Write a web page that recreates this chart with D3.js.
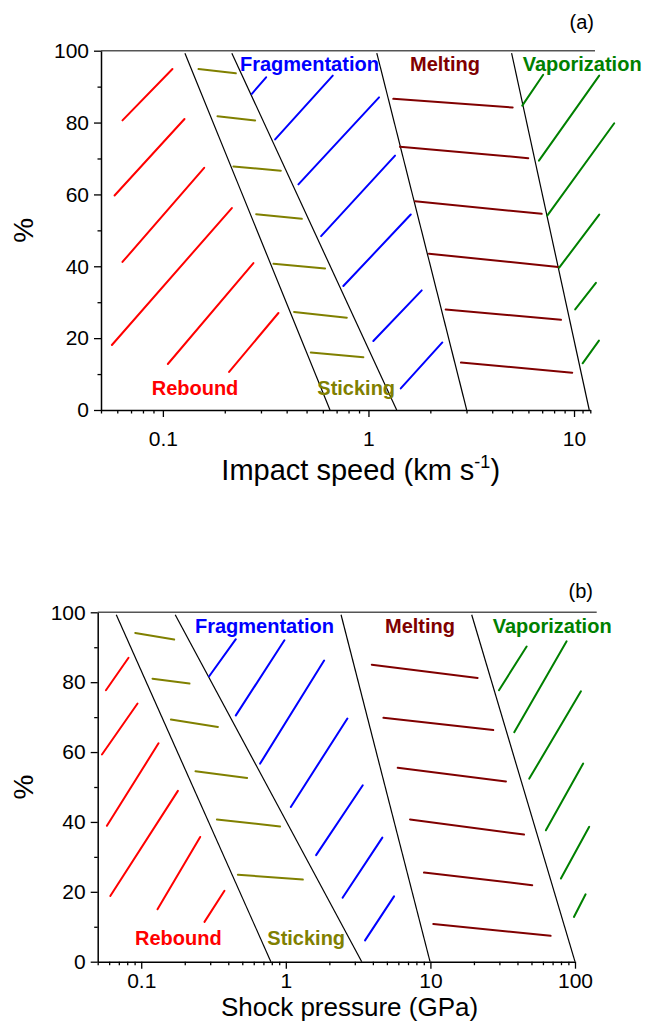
<!DOCTYPE html>
<html>
<head>
<meta charset="utf-8">
<script src="https://cdn.jsdelivr.net/npm/d3@7"></script>
<style>
  html, body { margin: 0; padding: 0; background: #fff; }
  svg { display: block; font-family: "Liberation Sans", Arial, sans-serif; }
</style>
</head>
<body>
<svg id="chart" width="649" height="1022"></svg>
<script>
// ---------------- DATA ----------------
const regimes = ["Rebound", "Sticking", "Fragmentation", "Melting", "Vaporization"];
const regimeColors = ["#ff0000", "#808000", "#0000ff", "#800000", "#008000"];

// Panel (a): impact speed (km/s)
const speedDomain = [0.05, 12];
const speedMajorTicks = [0.1, 1, 10];
const speedMinorTicks = [0.05,0.06,0.07,0.08,0.09,0.2,0.3,0.4,0.5,0.6,0.7,0.8,0.9,2,3,4,5,6,7,8,9,11,12];
const speedTickLabels = ["0.1", "1", "10"];
const boundaryTopA = [0.128, 0.2165, 1.098, 4.97];
const boundaryBottomA = [0.650, 1.372, 3.006, 11.86];
const reboundA = [[0.0636,80.6,0.1113,94.9],[0.0582,59.7,0.1274,81.0],[0.0636,41.2,0.1588,67.4],[0.0565,18.1,0.2165,56.2],[0.1057,12.8,0.2757,40.9],[0.210,10.6,0.3648,27.0]];
const stickingA = [[0.149,94.9,0.2264,93.7],[0.1843,81.75,0.281,80.6],[0.2204,67.8,0.3747,66.6],[0.2842,54.5,0.474,53.2],[0.345,40.7,0.615,39.4],[0.4347,27.3,0.7845,25.7],[0.5243,16.0,0.9446,14.7]];
const fragmentationA = [[0.2709,88.0,0.3178,92.6],[0.3516,75.3,0.6706,93.06],[0.4563,62.8,1.126,87.0],[0.5884,48.4,1.347,70.8],[0.755,34.5,1.606,54.4],[1.056,19.2,1.816,33.3],[1.436,6.0,2.288,18.8]];
const meltingA = [[1.321,86.6,5.03,84.2],[1.424,73.25,5.99,70.1],[1.685,58.1,6.96,54.6],[1.97,43.5,8.38,39.8],[2.375,28.0,8.64,25.1],[2.819,13.2,9.8,10.4]];
const vaporizationA = [[5.60,84.7,7.08,93.3],[6.75,69.4,13.26,93.06],[7.41,54.1,15.69,79.8],[8.47,39.6,13.26,54.4],[10.13,28.0,12.78,35.4],[11.01,13.0,13.22,19.3]];

// Panel (b): shock pressure (GPa)
const pressureDomain = [0.05, 100];
const pressureMajorTicks = [0.1, 1, 10, 100];
const pressureMinorTicks = [0.05,0.06,0.07,0.08,0.09,0.2,0.3,0.4,0.5,0.6,0.7,0.8,0.9,2,3,4,5,6,7,8,9,20,30,40,50,60,70,80,90];
const pressureTickLabels = ["0.1", "1", "10", "100"];
const boundaryTopB = [0.0672, 0.1718, 2.41, 19.3];
const boundaryBottomB = [0.788, 3.35, 9.94, 100];
const reboundB = [[0.057,77.7,0.0817,87.0],[0.0535,59.3,0.0943,73.9],[0.0579,38.9,0.1317,62.5],[0.0611,18.8,0.1793,48.9],[0.1296,15.0,0.2557,35.7],[0.2738,11.4,0.3764,20.3]];
const stickingB = [[0.0909,94.1,0.169,92.2],[0.1197,81.0,0.2157,79.6],[0.1604,69.3,0.339,67.2],[0.2373,54.5,0.54,52.6],[0.3336,40.7,0.9134,38.7],[0.4661,24.9,1.311,23.5]];
const fragmentationB = [[0.2951,81.7,0.4512,92.3],[0.4512,70.5,0.978,92.0],[0.6643,56.7,1.84,86.2],[1.083,44.3,2.666,69.6],[1.62,30.5,3.406,50.5],[2.47,18.3,4.651,35.5],[3.532,6.1,5.603,18.7]];
const meltingB = [[3.93,85.0,21.2,81.2],[4.73,69.8,27.2,66.3],[5.94,55.5,33.3,51.6],[7.23,40.7,44.4,36.4],[9.03,25.5,50.6,21.9],[10.47,10.8,67.8,7.4]];
const vaporizationB = [[29.8,77.7,46.3,90.2],[38.0,65.7,87.5,91.7],[48.3,52.4,109.9,77.4],[62.9,37.6,113.9,56.7],[79.9,23.8,125.4,38.6],[98.3,12.8,118.4,19.3]];

const yMajorTicks = [0, 20, 40, 60, 80, 100];
const yMinorTicks = [10, 30, 50, 70, 90];
const boundaryTopY = 99.3;

// ---------------- DRAW ----------------
const svg = d3.select("#chart");

function drawPanel(cfg) {
  const g = svg.append("g");
  const x = d3.scaleLog().domain(cfg.domain).range(cfg.xRange);
  const y = d3.scaleLinear().domain([0, 100]).range(cfg.yRange);

  // top frame line (gray)
  g.append("line")
    .attr("x1", x(cfg.domain[0])).attr("x2", cfg.topEnd)
    .attr("y1", y(100)).attr("y2", y(100))
    .attr("stroke", "#555").attr("stroke-width", 1.6);

  // boundary lines
  g.selectAll(".bnd").data(cfg.bTop).enter().append("line")
    .attr("x1", d => x(d)).attr("y1", y(boundaryTopY))
    .attr("x2", (d, i) => x(cfg.bBottom[i])).attr("y2", y(0))
    .attr("stroke", "#000").attr("stroke-width", 1.2);

  // hatch segments
  cfg.sets.forEach((set, k) => {
    g.selectAll(null).data(set).enter().append("line")
      .attr("x1", d => x(d[0])).attr("y1", d => y(d[1]))
      .attr("x2", d => x(d[2])).attr("y2", d => y(d[3]))
      .attr("stroke", regimeColors[k]).attr("stroke-width", 2)
      .attr("stroke-linecap", "round");
  });

  // x axis
  const fmt = d => cfg.labels[cfg.major.indexOf(d)];
  g.append("g").attr("transform", `translate(0,${y(0)})`)
    .call(d3.axisBottom(x).tickValues(cfg.major).tickFormat(fmt).tickSize(7).tickSizeOuter(0).tickPadding(cfg.xPad));
  g.append("g").attr("transform", `translate(0,${y(0)})`)
    .call(d3.axisBottom(x).tickValues(cfg.minor).tickFormat("").tickSize(3.5).tickSizeOuter(0))
    .select(".domain").remove();
  // y axis
  g.append("g").attr("transform", `translate(${x(cfg.domain[0])},0)`)
    .call(d3.axisLeft(y).tickValues(yMajorTicks).tickSize(7).tickSizeOuter(0).tickPadding(5));
  g.append("g").attr("transform", `translate(${x(cfg.domain[0])},0)`)
    .call(d3.axisLeft(y).tickValues(yMinorTicks).tickFormat("").tickSize(3.5).tickSizeOuter(0))
    .select(".domain").remove();

  g.selectAll(".tick line").attr("stroke", "#000").attr("stroke-width", 1.3);
  g.selectAll(".domain").attr("stroke", "#000").attr("stroke-width", 1.5);
  g.selectAll(".tick text").attr("font-size", 21).attr("fill", "#000")
    .attr("font-family", "'Liberation Sans', Arial, sans-serif");

  // regime labels
  cfg.regimeLabels.forEach((p, k) => {
    g.append("text").attr("x", p[0]).attr("y", p[1])
      .attr("fill", regimeColors[k]).attr("font-weight", "bold").attr("font-size", 20)
      .text(regimes[k]);
  });

  // panel label
  g.append("text").attr("x", cfg.panelPos[0]).attr("y", cfg.panelPos[1])
    .attr("text-anchor", "end").attr("font-size", 20).text(cfg.panel);

  // y title
  g.append("text").attr("transform", `translate(33,${(cfg.yRange[0] + cfg.yRange[1]) / 2}) rotate(-90)`)
    .attr("text-anchor", "middle").attr("font-size", 28).text("%");

  return g;
}

const gA = drawPanel({
  domain: speedDomain, xRange: [101, 590.3], yRange: [410, 50.7], topEnd: 595, xPad: 14,
  major: speedMajorTicks, minor: speedMinorTicks, labels: speedTickLabels,
  bTop: boundaryTopA, bBottom: boundaryBottomA,
  sets: [reboundA, stickingA, fragmentationA, meltingA, vaporizationA],
  regimeLabels: [[151.7, 395], [317.3, 395], [240, 70.7], [410, 70.7], [522.7, 70.7]],
  panel: "(a)", panelPos: [594, 29]
});
const tA = gA.append("text").attr("x", 360.7).attr("y", 480).attr("text-anchor", "middle").attr("font-size", 29);
tA.append("tspan").text("Impact speed (km s");
tA.append("tspan").attr("font-size", 18).attr("dy", -12).text("-1");
tA.append("tspan").attr("dy", 12).text(")");

const gB = drawPanel({
  domain: pressureDomain, xRange: [97.7, 575], yRange: [961.7, 612.3], topEnd: 596.7, xPad: 4,
  major: pressureMajorTicks, minor: pressureMinorTicks, labels: pressureTickLabels,
  bTop: boundaryTopB, bBottom: boundaryBottomB,
  sets: [reboundB, stickingB, fragmentationB, meltingB, vaporizationB],
  regimeLabels: [[135, 945], [267.3, 945], [195, 633.3], [385, 633.3], [492.7, 633.3]],
  panel: "(b)", panelPos: [593, 598]
});
gB.append("text").attr("x", 349.5).attr("y", 1016).attr("text-anchor", "middle").attr("font-size", 26)
  .text("Shock pressure (GPa)");
</script>
</body>
</html>
